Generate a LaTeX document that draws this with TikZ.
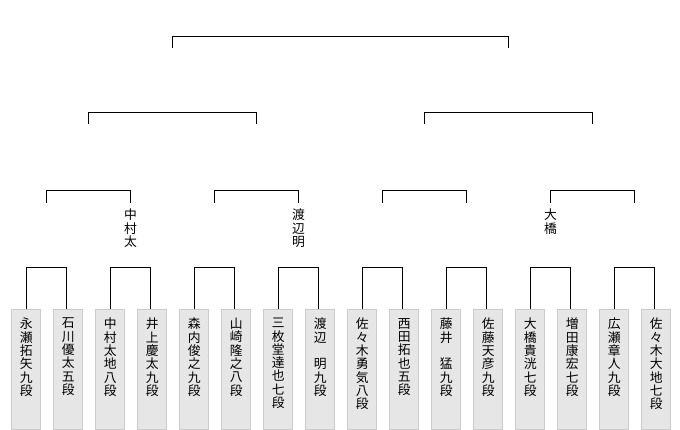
\documentclass[tikz,border=0pt]{standalone}
\usepackage{fontspec}
\newfontfamily\jp{Noto Sans CJK JP}
\definecolor{boxfill}{HTML}{E6E6E6}
\definecolor{boxline}{HTML}{CBCBCB}
\begin{document}
\begin{tikzpicture}[x=1pt,y=-1pt,
  pbox/.style={draw=boxline,fill=boxfill,line width=0.8pt,minimum width=29pt,minimum height=119.5pt,inner sep=0pt,anchor=north},
  ptext/.style={font=\jp\fontsize{12.8}{13.3}\selectfont,align=center,inner sep=0pt,anchor=north},
  wlabel/.style={font=\jp\fontsize{12.8}{13.3}\selectfont,align=center,inner sep=0pt,anchor=north},
  br/.style={line width=1pt,black,line join=miter}]
\useasboundingbox (0,0) rectangle (680,430);
% player boxes
\foreach \i in {1,...,16}{
  \node[pbox] (p\i) at ({26.2+42*(\i-1)},309.5) {};
}
% player names
\node[ptext] (n1) at ([yshift=-8.5pt]p1.north) {永\\瀬\\拓\\矢\\九\\段};
\node[ptext] (n2) at ([yshift=-8.5pt]p2.north) {石\\川\\優\\太\\五\\段};
\node[ptext] (n3) at ([yshift=-8.5pt]p3.north) {中\\村\\太\\地\\八\\段};
\node[ptext] (n4) at ([yshift=-8.5pt]p4.north) {井\\上\\慶\\太\\九\\段};
\node[ptext] (n5) at ([yshift=-8.5pt]p5.north) {森\\内\\俊\\之\\九\\段};
\node[ptext] (n6) at ([yshift=-8.5pt]p6.north) {山\\崎\\隆\\之\\八\\段};
\node[ptext] (n7) at ([yshift=-8.5pt]p7.north) {三\\枚\\堂\\達\\也\\七\\段};
\node[ptext] (n8) at ([yshift=-8.5pt]p8.north) {渡\\辺\\　\\明\\九\\段};
\node[ptext] (n9) at ([yshift=-8.5pt]p9.north) {佐\\々\\木\\勇\\気\\八\\段};
\node[ptext] (n10) at ([yshift=-8.5pt]p10.north) {西\\田\\拓\\也\\五\\段};
\node[ptext] (n11) at ([yshift=-8.5pt]p11.north) {藤\\井\\　\\猛\\九\\段};
\node[ptext] (n12) at ([yshift=-8.5pt]p12.north) {佐\\藤\\天\\彦\\九\\段};
\node[ptext] (n13) at ([yshift=-8.5pt]p13.north) {大\\橋\\貴\\洸\\七\\段};
\node[ptext] (n14) at ([yshift=-8.5pt]p14.north) {増\\田\\康\\宏\\七\\段};
\node[ptext] (n15) at ([yshift=-8.5pt]p15.north) {広\\瀬\\章\\人\\九\\段};
\node[ptext] (n16) at ([yshift=-8.5pt]p16.north) {佐\\々\\木\\大\\地\\七\\段};
% first round brackets
\foreach \k in {0,...,7}{
  \pgfmathtruncatemacro{\a}{2*\k+1}
  \pgfmathtruncatemacro{\b}{2*\k+2}
  \coordinate (r1a\k) at (p\a.north);
  \coordinate (r1b\k) at ([xshift=-1.5pt]p\b.north);
  \draw[br] (r1a\k) -- (r1a\k |- 0,268) -- (r1b\k |- 0,268) -- (r1b\k);
}
% second round
\foreach \x [count=\j from 0] in {46.45,214.45,382.45,550.45}{
  \coordinate (r2a\j) at (\x,203);
  \coordinate (r2b\j) at (\x+84,203);
  \draw[br] (r2a\j) -- (r2a\j |- 0,191) -- (r2b\j |- 0,191) -- (r2b\j);
}
% third round
\foreach \x [count=\j from 0] in {88.45,424.45}{
  \coordinate (r3a\j) at (\x,124);
  \coordinate (r3b\j) at (\x+168,124);
  \draw[br] (r3a\j) -- (r3a\j |- 0,113) -- (r3b\j |- 0,113) -- (r3b\j);
}
% final
\coordinate (fa) at (172.45,48);
\coordinate (fb) at (508.45,48);
\draw[br] (fa) -- (fa |- 0,37) -- (fb |- 0,37) -- (fb);
% winner labels
\node[wlabel] (w1) at ([yshift=-6pt]r2b0) {中\\村\\太};
\node[wlabel] (w2) at ([yshift=-6pt]r2b1) {渡\\辺\\明};
\node[wlabel] (w3) at ([yshift=-6pt]r2a3) {大\\橋};
\end{tikzpicture}
\end{document}
